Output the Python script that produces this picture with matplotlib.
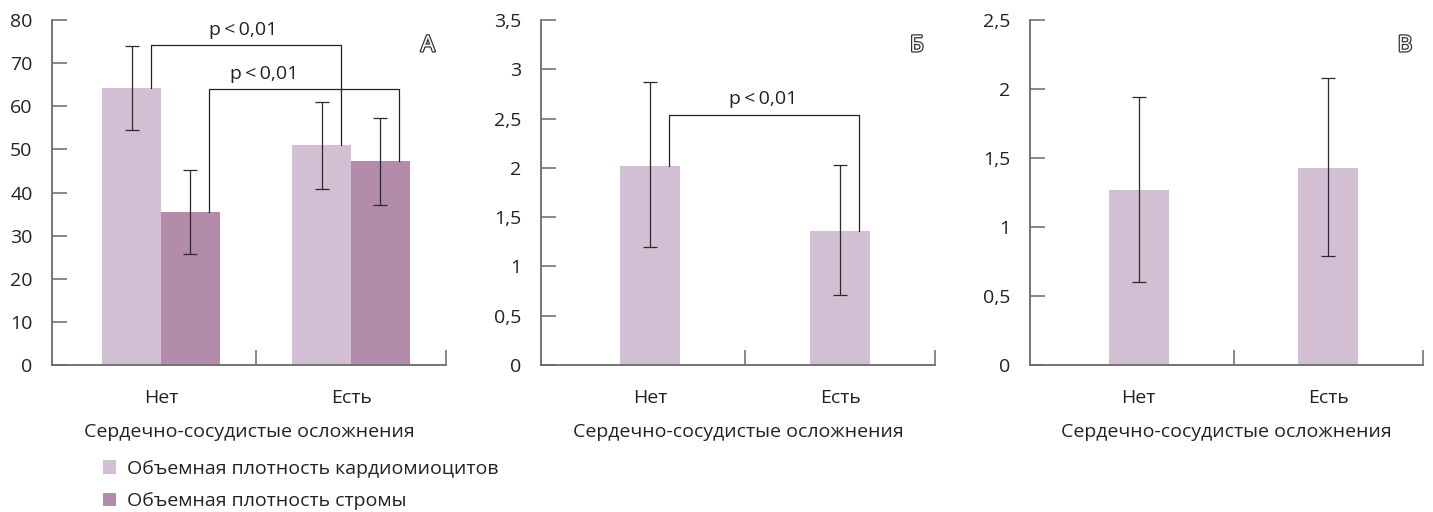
import matplotlib.pyplot as plt
import matplotlib.patheffects as pe
from matplotlib.patches import Patch
import numpy as np

plt.rcParams['font.family'] = ['Open Sans', 'DejaVu Sans']
plt.rcParams['font.size'] = 14

# data
categories = ['Нет', 'Есть']
xlabel = 'Сердечно-сосудистые осложнения'
legend_labels = ['Объемная плотность кардиомиоцитов', 'Объемная плотность стромы']

# panel A
cardio_a = [64.2, 50.9]
cardio_a_err = [9.8, 10.1]
stroma_a = [35.5, 47.2]
stroma_a_err = [9.7, 10.1]

# panel Б
cardio_b = [2.02, 1.36]
cardio_b_err_lo = [0.82, 0.65]
cardio_b_err_hi = [0.85, 0.67]

# panel В
cardio_v = [1.27, 1.43]
cardio_v_err_lo = [0.67, 0.64]
cardio_v_err_hi = [0.67, 0.65]

light = '#d3bfd4'
dark = '#b48cab'
axis_col = '#6a6a6a'
err_col = '#2a2a2a'
txt_col = '#222222'

fig = plt.figure(figsize=(14.33, 5.12), dpi=100)
W, H = 1433, 512


def make_axes(left_px, right_px, ymax, ystep, letter):
    ax = fig.add_axes([left_px / W, (H - 365) / H, (right_px - left_px) / W, 345 / H])
    ax.set_xlim(-0.574, 1.5)
    ax.set_ylim(0, ymax)
    for s in ['top', 'right']:
        ax.spines[s].set_visible(False)
    for s in ['left', 'bottom']:
        ax.spines[s].set_color(axis_col)
        ax.spines[s].set_linewidth(1.3)
    yt = np.arange(0, ymax + 1e-9, ystep)
    ax.set_yticks(yt)
    ax.set_yticklabels([('%g' % v).replace('.', ',') for v in yt])
    ax.tick_params(axis='y', direction='in', length=11, width=1.1, color=axis_col, pad=14,
                   labelcolor=txt_col)
    ax.set_xticks([0.5, 1.5])
    ax.set_xticklabels(['', ''])
    ax.tick_params(axis='x', which='major', direction='in', length=11, width=1.1, color=axis_col)
    ax.set_xticks([0, 1], minor=True)
    ax.set_xticklabels(categories, minor=True)
    ax.tick_params(axis='x', which='minor', length=0, pad=17, labelcolor=txt_col)
    ax.set_xlabel(xlabel, labelpad=12, color=txt_col)
    ax.text(0.954, 0.925, letter, transform=ax.transAxes, ha='center', va='center',
            fontsize=16, color='white',
            path_effects=[pe.withStroke(linewidth=1.8, foreground='#333333')])
    return ax


def bracket(ax, x1, y1, x2, y2, ytop, tx):
    ax.plot([x1, x1, x2, x2], [y1, ytop, ytop, y2], color=txt_col, lw=0.9)
    ax.annotate('p\u2009<\u20090,01', xy=(tx, ytop), xytext=(0, 11), textcoords='offset points',
                ha='center', va='center', color=txt_col)


x = np.arange(len(categories))
bw = 0.31
ekw = dict(ecolor=err_col, elinewidth=0.9, capsize=5, capthick=0.9)

# panel A
axA = make_axes(52, 446, 80, 10, 'А')
axA.bar(x - bw / 2, cardio_a, bw, color=light, yerr=cardio_a_err, error_kw=ekw)
axA.bar(x + bw / 2, stroma_a, bw, color=dark, yerr=stroma_a_err, error_kw=ekw)
off = 0.1
bracket(axA, x[0] - bw / 2 + off, cardio_a[0], x[1] - bw / 2 + off, cardio_a[1], 74.2, 0.43)
bracket(axA, x[0] + bw / 2 + off, stroma_a[0], x[1] + bw / 2 + off, stroma_a[1], 63.9, 0.54)

# panel Б
axB = make_axes(541, 935, 3.5, 0.5, 'Б')
axB.bar(x, cardio_b, 0.316, color=light, yerr=[cardio_b_err_lo, cardio_b_err_hi], error_kw=ekw)
bracket(axB, x[0] + off, cardio_b[0], x[1] + off, cardio_b[1], 2.54, 0.595)

# panel В
axV = make_axes(1030, 1423, 2.5, 0.5, 'В')
axV.bar(x, cardio_v, 0.316, color=light, yerr=[cardio_v_err_lo, cardio_v_err_hi], error_kw=ekw)

handles = [Patch(facecolor=light), Patch(facecolor=dark)]
fig.legend(handles, legend_labels, loc='center left', bbox_to_anchor=(103 / W, 27 / H),
           frameon=False, handlelength=0.68, handleheight=0.68, handletextpad=0.55,
           labelspacing=0.75, borderpad=0, borderaxespad=0, labelcolor=txt_col)

fig.savefig('out.png', dpi=100)
